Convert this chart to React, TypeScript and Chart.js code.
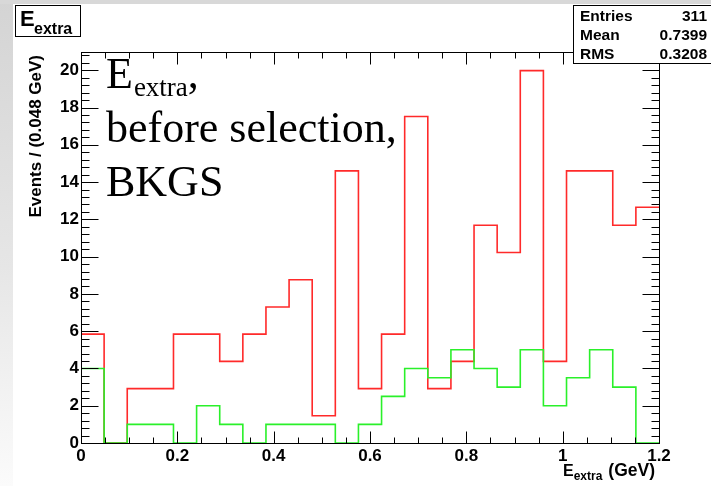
import { useEffect, useRef } from 'react';
import { Chart, registerables } from 'chart.js';

Chart.register(...registerables);

const BIN_WIDTH = 0.048;
const redValues = [5.84, 0, 2.92, 2.92, 5.84, 5.84, 4.38, 5.84, 7.3, 8.76, 1.46, 14.6, 2.92, 5.84, 17.52, 2.92, 4.38, 11.68, 10.22, 19.98, 4.38, 14.6, 14.6, 11.68, 12.65];
const greenValues = [4, 0, 1, 1, 0, 2, 1, 0, 1, 1, 1, 0, 1, 2.5, 4, 3.5, 5, 4, 3, 5, 2, 3.5, 5, 3, 0];
const xTickValues = [0, 0.2, 0.4, 0.6, 0.8, 1, 1.2];
const yTickValues = [0, 2, 4, 6, 8, 10, 12, 14, 16, 18, 20];
const statsLabels = ['Entries', 'Mean', 'RMS'];
const statsValues = ['311', '0.7399', '0.3208'];
const X_MIN = 0;
const X_MAX = 1.2;
const Y_MIN = 0;
const Y_MAX = 20.98;

function toSteps(values: number[]) {
  const pts = values.map((v, i) => ({ x: i * BIN_WIDTH, y: v }));
  pts.push({ x: values.length * BIN_WIDTH, y: values[values.length - 1] });
  return pts;
}

const SANS = '"Liberation Sans", Arial, sans-serif';
const SERIF = '"Liberation Serif", "Times New Roman", serif';

const rootDecor = {
  id: 'rootDecor',
  afterDraw(chart: any) {
    const { ctx, chartArea: a, scales } = chart;
    const x = scales.x;
    const y = scales.y;
    const L = Math.round(a.left) + 0.5;
    const R = Math.round(a.right) + 0.5;
    const T = Math.round(a.top) + 0.5;
    const B = Math.round(a.bottom) + 0.5;
    ctx.save();
    ctx.strokeStyle = '#000';
    ctx.lineWidth = 1;
    const line = (x1: number, y1: number, x2: number, y2: number) => {
      ctx.beginPath();
      ctx.moveTo(x1, y1);
      ctx.lineTo(x2, y2);
      ctx.stroke();
    };
    // frame
    ctx.strokeRect(L, T, R - L, B - T);
    // y ticks (left and right)
    for (let i = 0; i * 0.4 <= Y_MAX; i++) {
      const py = Math.round(y.getPixelForValue(i * 0.4)) + 0.5;
      const len = i % 5 === 0 ? 17 : 8;
      line(L, py, L + len, py);
      line(R, py, R - len, py);
    }
    // x ticks (bottom and top)
    for (let i = 0; i <= 24; i++) {
      const px = Math.round(x.getPixelForValue(i * 0.05)) + 0.5;
      const len = i % 4 === 0 ? 12 : 6;
      line(px, B, px, B - len);
      line(px, T, px, T + len);
    }
    ctx.fillStyle = '#000';
    // y axis title
    ctx.save();
    ctx.translate(41, 55);
    ctx.rotate(-Math.PI / 2);
    ctx.font = `bold 17px ${SANS}`;
    ctx.textAlign = 'right';
    ctx.textBaseline = 'alphabetic';
    ctx.fillText('Events / (0.048 GeV)', 0, 0);
    ctx.restore();
    // x axis title
    ctx.textBaseline = 'alphabetic';
    ctx.textAlign = 'right';
    ctx.font = `bold 17.5px ${SANS}`;
    ctx.fillText('(GeV)', 655, 476);
    const gevW = ctx.measureText('(GeV)').width;
    ctx.font = `bold 12px ${SANS}`;
    const subW = ctx.measureText('extra').width;
    const subX = 655 - gevW - 6 - subW;
    ctx.textAlign = 'left';
    ctx.fillText('extra', subX, 480);
    ctx.font = `bold 16px ${SANS}`;
    ctx.textAlign = 'right';
    ctx.fillText('E', subX, 476);
    // big label
    ctx.textAlign = 'left';
    ctx.font = `44px ${SERIF}`;
    ctx.fillText('E', 106, 88);
    const eW = ctx.measureText('E').width;
    ctx.font = `27px ${SERIF}`;
    ctx.fillText('extra', 106 + eW + 1, 96);
    const exW = ctx.measureText('extra').width;
    ctx.font = `44px ${SERIF}`;
    ctx.fillText(',', 106 + eW + 1 + exW, 88);
    ctx.fillText('before selection,', 106, 142);
    ctx.fillText('BKGS', 106, 196);
    // title box
    ctx.fillStyle = '#fff';
    ctx.fillRect(15.5, 5.5, 65, 31);
    ctx.strokeRect(15.5, 5.5, 65, 31);
    ctx.fillStyle = '#000';
    ctx.font = `bold 22px ${SANS}`;
    ctx.fillText('E', 20, 26);
    ctx.font = `bold 16px ${SANS}`;
    ctx.fillText('extra', 34, 34);
    // stats box
    ctx.fillStyle = '#fff';
    ctx.fillRect(573.5, 5.5, 150, 58);
    ctx.strokeRect(573.5, 5.5, 150, 58);
    ctx.fillStyle = '#000';
    ctx.font = `bold 15.5px ${SANS}`;
    const baselines = [21, 40, 59];
    statsLabels.forEach((lab, i) => {
      ctx.textAlign = 'left';
      ctx.fillText(lab, 580, baselines[i]);
      ctx.textAlign = 'right';
      ctx.fillText(statsValues[i], 707, baselines[i]);
    });
    ctx.restore();
  },
};

export default function App() {
  const ref = useRef<HTMLCanvasElement | null>(null);
  useEffect(() => {
    if (!ref.current) return;
    const tickFont = { family: SANS, size: 17, weight: 'bold' as const };
    const chart = new Chart(ref.current, {
      type: 'line',
      data: {
        datasets: [
          {
            label: 'green',
            data: toSteps(greenValues),
            borderColor: '#2af02a',
            borderWidth: 1.6,
            stepped: 'before',
            pointRadius: 0,
            fill: false,
          },
          {
            label: 'red',
            data: toSteps(redValues),
            borderColor: '#ff2a2a',
            borderWidth: 1.6,
            stepped: 'before',
            pointRadius: 0,
            fill: false,
          },
        ],
      },
      options: {
        animation: false,
        responsive: false,
        devicePixelRatio: 1,
        layout: { padding: { top: 52, right: 52, left: 0, bottom: 0 } },
        plugins: {
          legend: { display: false },
          tooltip: { enabled: false },
          title: { display: false },
        },
        scales: {
          x: {
            type: 'linear',
            min: X_MIN,
            max: X_MAX,
            grid: { display: false, drawTicks: false },
            border: { display: false },
            ticks: {
              font: tickFont,
              color: '#000',
              padding: 3,
              maxRotation: 0,
              autoSkip: false,
              callback: (v: any) => String(Math.round(Number(v) * 10) / 10),
            },
            afterBuildTicks: (s: any) => {
              s.ticks = xTickValues.map((v) => ({ value: v }));
            },
            afterFit: (s: any) => {
              s.height = 43;
            },
          },
          y: {
            type: 'linear',
            min: Y_MIN,
            max: Y_MAX,
            grid: { display: false, drawTicks: false },
            border: { display: false },
            ticks: {
              font: tickFont,
              color: '#000',
              padding: 2,
              autoSkip: false,
              callback: (v: any) => String(Math.round(Number(v))),
            },
            afterBuildTicks: (s: any) => {
              s.ticks = yTickValues.map((v) => ({ value: v }));
            },
            afterFit: (s: any) => {
              s.width = 81;
            },
          },
        },
      },
      plugins: [rootDecor],
    });
    return () => chart.destroy();
  }, []);
  return (
    <div
      style={{
        position: 'fixed',
        left: 0,
        top: 0,
        width: 711,
        height: 486,
        background:
          'linear-gradient(#d8d8d8, #d8d8d8) top left / 100% 4px no-repeat, linear-gradient(to bottom, #d4d4d4, #e6e6e6 55%, #fbfbfb) top left / 13px 100% no-repeat, #ffffff',
      }}
    >
      <canvas ref={ref} width={711} height={486} style={{ display: 'block', width: 711, height: 486 }} />
    </div>
  );
}
